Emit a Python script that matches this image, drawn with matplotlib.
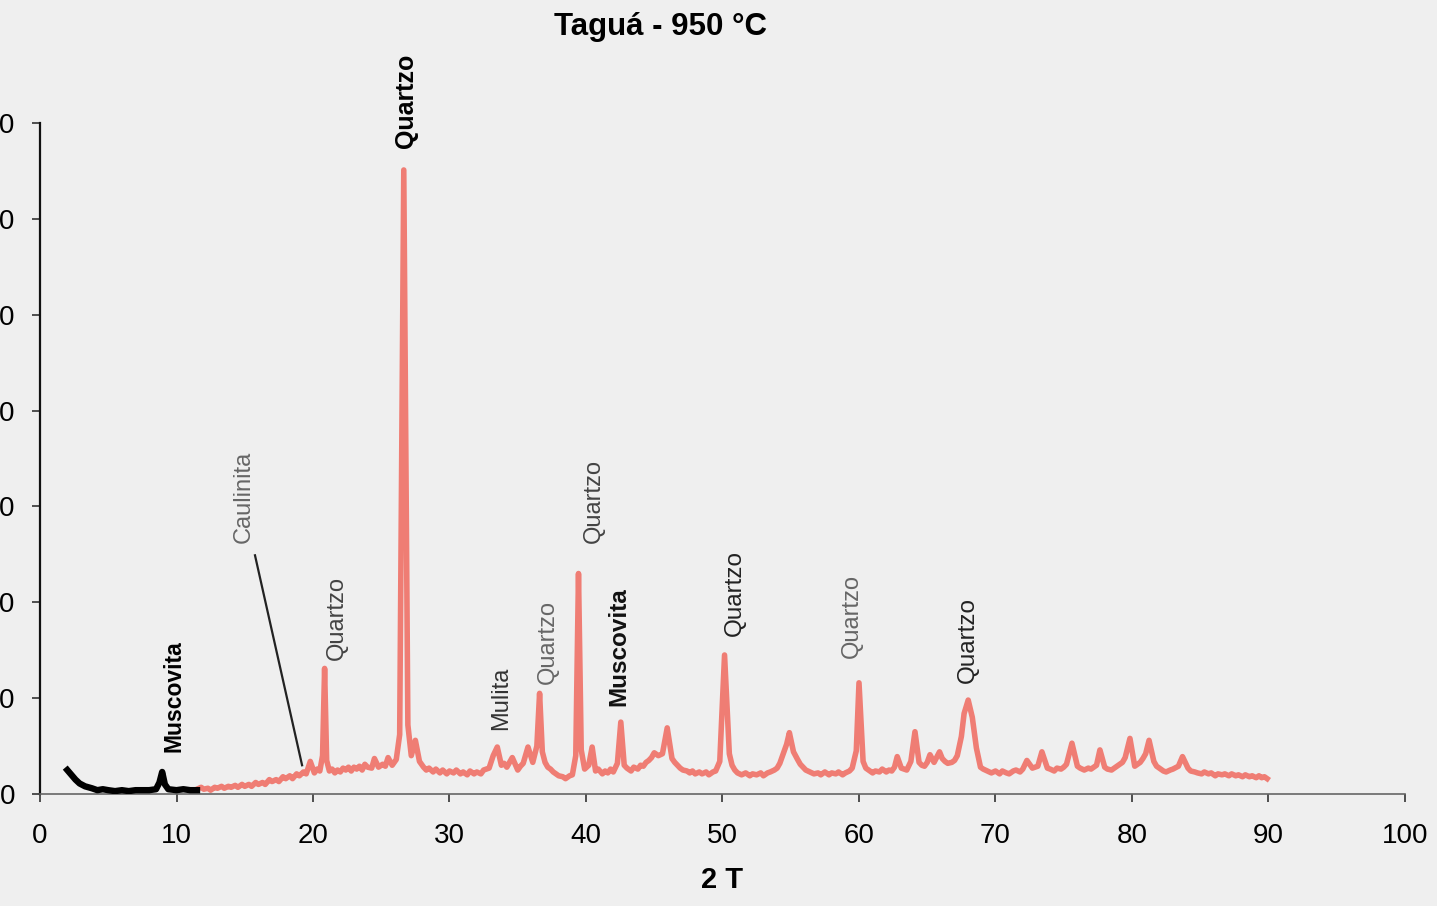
import numpy as np
import matplotlib.pyplot as plt

# ------------------------------------------------------------
# data (2 theta, counts)
x_black = [2.0, 2.3, 2.6, 2.9, 3.3, 3.8, 4.2, 4.6, 5.0, 5.5, 6.0, 6.5, 7.0,
           7.5, 8.0, 8.5, 8.75, 8.95, 9.15, 9.4, 10.0, 10.5, 11.0, 11.5]
y_black = [25, 20, 15, 11, 8, 6, 4, 5, 4, 3, 4, 3, 4,
           4, 4, 5, 12, 23, 10, 5, 4, 5, 4, 4]

# (2theta, counts) pairs for the red scan
red_scan = [
    (11.5, 5), (11.8, 7), (12.0, 5), (12.3, 6), (12.5, 4), (12.8, 7),
    (13.0, 6), (13.3, 8), (13.5, 6), (13.8, 8), (14.0, 7), (14.3, 9),
    (14.5, 7), (14.8, 10), (15.0, 8), (15.3, 10), (15.5, 8), (15.8, 12),
    (16.0, 10), (16.3, 12), (16.5, 10), (16.8, 15), (17.0, 13), (17.3, 15),
    (17.5, 13), (17.8, 18), (18.0, 16), (18.3, 19), (18.5, 16), (18.8, 21),
    (19.0, 19), (19.3, 23), (19.5, 21), (19.8, 34), (20.1, 22), (20.3, 26),
    (20.5, 24), (20.7, 40), (20.85, 131), (21.0, 35), (21.2, 24), (21.4, 26),
    (21.6, 22), (21.8, 25), (22.0, 23), (22.2, 27), (22.4, 25), (22.6, 28),
    (22.8, 24), (23.0, 28), (23.2, 26), (23.4, 29), (23.6, 25), (23.8, 31),
    (24.0, 28), (24.3, 27), (24.5, 37), (24.8, 28), (25.1, 31), (25.3, 29),
    (25.5, 38), (25.8, 30), (26.1, 36), (26.35, 62), (26.65, 651),
    (26.95, 72), (27.2, 40), (27.5, 56), (27.8, 34), (28.1, 28), (28.3, 25),
    (28.5, 27), (28.8, 23), (29.0, 26), (29.3, 22), (29.5, 25), (29.8, 21),
    (30.0, 24), (30.3, 22), (30.5, 25), (30.8, 21), (31.0, 23), (31.3, 20),
    (31.5, 24), (31.8, 21), (32.0, 23), (32.3, 21), (32.5, 25), (32.9, 27),
    (33.2, 40), (33.5, 49), (33.8, 30), (34.0, 32), (34.2, 28), (34.6, 38),
    (35.0, 25), (35.2, 29), (35.4, 32), (35.75, 49), (36.1, 33), (36.4, 50),
    (36.6, 105), (36.8, 44), (37.0, 33), (37.2, 28), (37.4, 26), (37.6, 23),
    (37.8, 21), (38.0, 19), (38.3, 18), (38.5, 16), (38.8, 19), (39.0, 20),
    (39.25, 40), (39.45, 230), (39.65, 46), (39.9, 26), (40.2, 30),
    (40.45, 49), (40.7, 24), (40.9, 26), (41.2, 21), (41.4, 24), (41.6, 22),
    (41.8, 26), (42.0, 23), (42.3, 32), (42.55, 75), (42.8, 30), (43.0, 27),
    (43.3, 24), (43.5, 28), (43.8, 26), (44.0, 30), (44.2, 29), (44.4, 33),
    (44.6, 35), (44.8, 38), (45.0, 43), (45.3, 40), (45.6, 42), (45.95, 69),
    (46.3, 37), (46.5, 33), (46.7, 30), (46.9, 27), (47.1, 25), (47.4, 24),
    (47.6, 22), (47.8, 24), (48.0, 21), (48.3, 23), (48.5, 21), (48.8, 23),
    (49.0, 20), (49.3, 23), (49.5, 24), (49.8, 34), (50.15, 145), (50.5, 42),
    (50.7, 30), (50.9, 25), (51.1, 22), (51.4, 20), (51.7, 22), (52.0, 19),
    (52.2, 21), (52.5, 20), (52.8, 22), (53.0, 19), (53.3, 22), (53.5, 23),
    (53.8, 25), (54.0, 27), (54.2, 32), (54.4, 40), (54.7, 52), (54.9, 64),
    (55.2, 44), (55.5, 36), (55.7, 31), (55.9, 28), (56.1, 25), (56.4, 23),
    (56.7, 21), (57.0, 22), (57.2, 20), (57.5, 23), (57.8, 20), (58.0, 22),
    (58.3, 21), (58.5, 23), (58.8, 20), (59.0, 22), (59.3, 24), (59.5, 27),
    (59.8, 45), (60.0, 116), (60.3, 34), (60.5, 27), (60.7, 25), (61.0, 22),
    (61.2, 24), (61.5, 23), (61.7, 26), (62.0, 23), (62.2, 25), (62.4, 24),
    (62.6, 28), (62.8, 39), (63.1, 27), (63.3, 26), (63.5, 25), (63.8, 34),
    (64.1, 65), (64.4, 33), (64.6, 30), (64.8, 29), (65.0, 33), (65.2, 41),
    (65.5, 33), (65.9, 44), (66.1, 37), (66.3, 34), (66.5, 32), (66.8, 33),
    (67.0, 35), (67.2, 40), (67.5, 60), (67.7, 84), (68.0, 98), (68.3, 80),
    (68.6, 48), (68.9, 28), (69.1, 26), (69.4, 24), (69.7, 22), (70.0, 24),
    (70.3, 21), (70.5, 24), (70.8, 22), (71.0, 21), (71.3, 24), (71.5, 25),
    (71.8, 23), (72.0, 26), (72.3, 35), (72.7, 27), (73.1, 29), (73.4, 44),
    (73.8, 27), (74.0, 26), (74.3, 24), (74.5, 27), (74.8, 26), (75.0, 28),
    (75.2, 31), (75.6, 53), (76.0, 29), (76.2, 27), (76.5, 25), (76.8, 27),
    (77.0, 26), (77.4, 30), (77.65, 46), (78.0, 28), (78.2, 26), (78.5, 25),
    (78.8, 28), (79.0, 30), (79.3, 33), (79.5, 38), (79.85, 58), (80.2, 29),
    (80.4, 31), (80.6, 33), (80.8, 37), (81.0, 42), (81.25, 56), (81.6, 34),
    (81.8, 29), (82.0, 27), (82.3, 24), (82.5, 23), (82.8, 25), (83.0, 26),
    (83.4, 29), (83.7, 39), (84.1, 27), (84.3, 24), (84.6, 23), (84.8, 22),
    (85.1, 21), (85.3, 23), (85.6, 21), (85.8, 22), (86.1, 19), (86.3, 21),
    (86.6, 20), (86.8, 21), (87.1, 19), (87.3, 21), (87.6, 19), (87.8, 20),
    (88.1, 18), (88.3, 20), (88.6, 18), (88.8, 19), (89.1, 17), (89.3, 19),
    (89.5, 17), (89.7, 18), (89.9, 16),
]
x_red = [p[0] for p in red_scan]
y_red = [p[1] for p in red_scan]

labels = ["Muscovita", "Caulinita", "Quartzo", "Quartzo", "Mulita", "Quartzo",
          "Quartzo", "Muscovita", "Quartzo", "Quartzo", "Quartzo"]
label_x = [9.8, 14.9, 21.75, 26.8, 33.8, 37.2, 40.6, 42.4, 50.9, 59.5, 68.0]
label_y = [44, 262, 140, 674, 67, 115, 262, 92, 165, 142, 116]
label_weight = ["bold", "normal", "normal", "bold", "normal", "normal",
                "normal", "bold", "normal", "normal", "normal"]
label_color = ["black", "#666666", "#444444", "black", "#333333", "#666666",
               "#444444", "#111111", "#222222", "#666666", "#222222"]
label_size = [16.5, 17, 17, 18, 17, 17, 17, 17.5, 17.5, 17, 17.5]

bg = "#efefef"
red = "#ef7d74"

plt.rcParams["font.family"] = ["Liberation Sans", "DejaVu Sans"]
fig = plt.figure(figsize=(14.37, 9.06), dpi=100, facecolor=bg)
ax = fig.add_axes([40 / 1437, 1 - 794 / 906, 1365 / 1437, 671 / 906])
ax.set_facecolor(bg)

ax.plot(x_red, y_red, color=red, lw=4.0, solid_joinstyle="round", zorder=2)
ax.plot(x_black, y_black, color="black", lw=4.6, solid_joinstyle="round",
        zorder=3)

for txt, lx, ly, w, c, s in zip(labels, label_x, label_y, label_weight,
                                label_color, label_size):
    ax.text(lx, ly, txt, rotation=90, ha="center", va="bottom",
            fontsize=s, fontweight=w, color=c)

# pointer from the Caulinita label down to its peak
ax.plot([15.75, 19.2], [249, 30], color="#222222", lw=1.6, zorder=4)

ax.set_xlim(0, 100)
ax.set_ylim(0, 700)
ax.set_xticks(np.arange(0, 101, 10))
ax.set_yticks(np.arange(0, 701, 100))
for side in ["top", "right"]:
    ax.spines[side].set_visible(False)
ax.spines["left"].set_color("#111111")
ax.spines["left"].set_linewidth(1.6)
ax.spines["bottom"].set_color("#666666")
ax.spines["bottom"].set_linewidth(1.2)
ax.tick_params(axis="both", direction="out", length=6, width=1.2,
               labelsize=20, colors="#333333", labelcolor="black")
ax.tick_params(axis="x", pad=15)
ax.tick_params(axis="y", pad=12)

ax.set_xlabel("2 T", fontsize=21, fontweight="bold", labelpad=12)
fig.text(661 / 1437, 1 - 27 / 906, "Taguá - 950 °C", ha="center", va="center",
         fontsize=22.5, fontweight="bold")

fig.savefig("out.png", dpi=100, facecolor=bg)
